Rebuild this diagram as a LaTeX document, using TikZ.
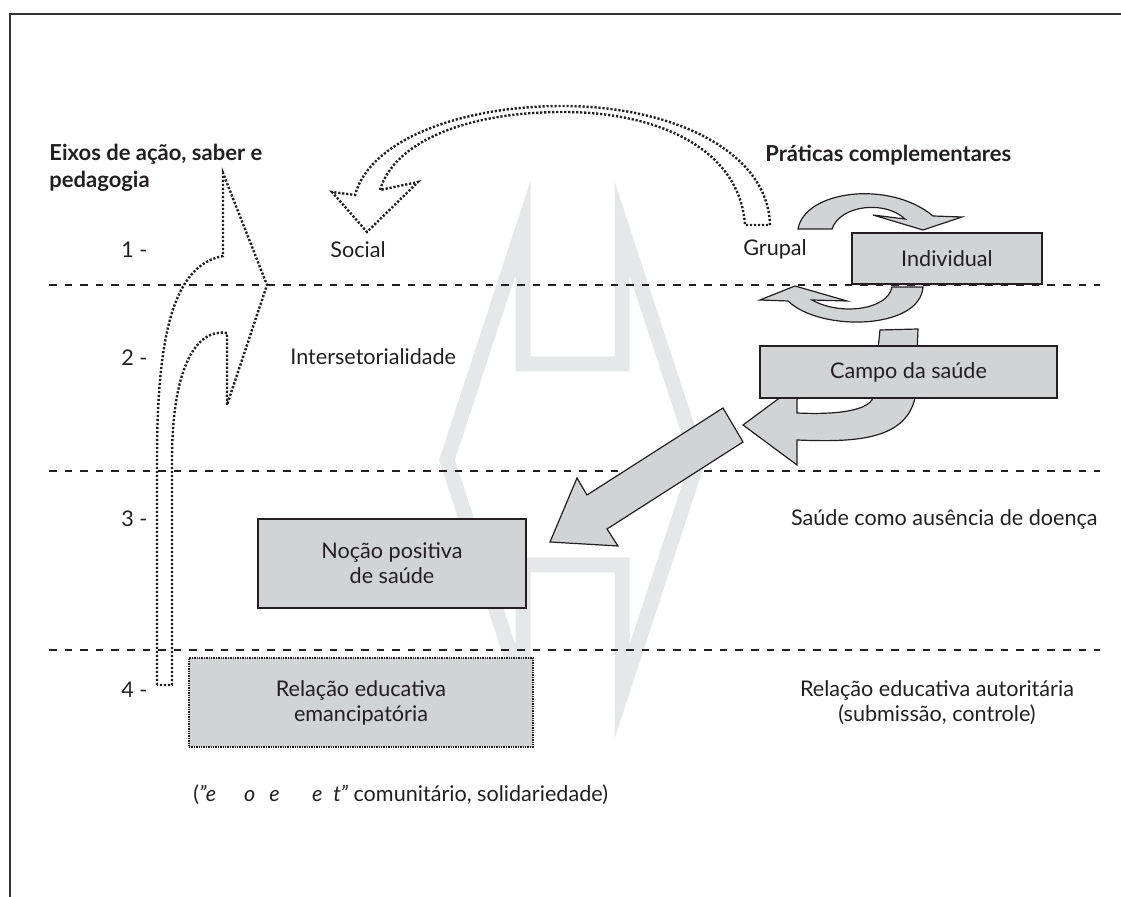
\documentclass[tikz,border=0pt]{standalone}
\usepackage{fontspec}
\setmainfont{Lato}
\usepackage{xcolor}
\definecolor{ink}{HTML}{231F20}
\definecolor{boxgray}{HTML}{D1D3D4}
\definecolor{markgray}{HTML}{E6E7E8}

\begin{document}
\begin{tikzpicture}[
    x=0.5pt, y=-0.5pt,
    font=\fontsize{10.8}{12.5}\selectfont,
    text=ink,
    box/.style={draw=ink, line width=0.6pt, fill=boxgray, align=center, inner sep=0pt},
    dotbox/.style={box, line width=1.1pt, dash pattern=on 0.7pt off 0.5pt},
    sepline/.style={ink, line width=1.3pt, dash pattern=on 3.8pt off 4pt},
    dotarrow/.style={ink, line width=1.2pt, dash pattern=on 1.1pt off 0.9pt},
    grayarrow/.style={draw=ink, line width=0.6pt, fill=boxgray},
    wmark/.style={draw=markgray, line width=7.5pt, line join=miter},
    heading/.style={anchor=west, align=left, inner sep=0pt, font=\fontsize{11}{13.5}\selectfont\bfseries},
    plain/.style={anchor=west, inner sep=0pt}
  ]
  \useasboundingbox (0,0) rectangle (1121,897);

  % background symbol
  \draw[wmark] (523,228) -- (447,460) -- (523,692) -- (523,565) -- (622,565) -- (622,692)
    -- (698,460) -- (622,228) -- (622,364) -- (523,364) -- cycle;

  % frame
  \draw[black!80, line width=0.9pt] (1121,14) -- (10,14) -- (10,897);

  % levels
  \foreach \y in {285,471,650}
    \draw[sepline] (49,\y) -- (1100,\y);

  % gray arrows
  \draw[grayarrow] (798,229) .. controls (805,190) and (890,180) .. (933,216) -- (962,217) -- (923,230)
    -- (873,215) -- (905,219) .. controls (885,200) and (840,205) .. (832,229) -- cycle;
  \draw[grayarrow] (892,287) -- (923,287) .. controls (920,330) and (820,332) .. (788,301) -- (760,300)
    -- (795,286) -- (847,301) -- (812,300) .. controls (840,316) and (888,310) .. (892,287) -- cycle;
  \draw[grayarrow] (880,330) -- (918,329) -- (915,398) .. controls (905,442) and (850,442) .. (797,440)
    -- (797,465) -- (743,425) -- (797,385) -- (797,413) .. controls (840,415) and (868,410) .. (873,398) -- cycle;
  \draw[grayarrow] (723,408) -- (743,442) -- (607,529) -- (618,546) -- (550,542) -- (577,478) -- (587,495) -- cycle;

  % boxes
  \node[box, minimum width=95pt, minimum height=25.5pt] (indiv) at (947,258.5) {Individual};
  \node[box, minimum width=148.5pt, minimum height=26pt] (campo) at (908.5,372) {Campo da saúde};
  \node[box, minimum width=134pt, minimum height=44.5pt] (nocao) at (392,563.5) {Noção positiva\\de saúde};
  \node[dotbox, minimum width=172pt, minimum height=44.5pt] (emanc) at (361,702.5) {Relação educativa\\emancipatória};

  % dotted arrows
  \draw[dotarrow] (157,685) -- (157,460) .. controls (157,330) and (175,265) .. (223,256) -- (223,173)
    -- (267,285) -- (227,405) -- (227,333) .. controls (195,328) and (172,370) .. (172,460) -- (172,685) -- cycle;
  \draw[dotarrow] (770,225) .. controls (768,150) and (670,106) .. (563,106) .. controls (460,106) and (370,140) .. (355,195)
    -- (332,192) -- (367,232) -- (418,182) -- (380,190) .. controls (395,140) and (470,112) .. (563,112)
    .. controls (660,112) and (740,150) .. (745,225) -- cycle;

  % texts
  \node[heading] (axes) at (49,168) {Eixos de ação, saber e\\pedagogia};
  \node[heading] (compl) at (765,155) {Práticas complementares};
  \node[plain] (n1) at (121,250) {1 -};
  \node[plain] (n2) at (121,358) {2 -};
  \node[plain] (n3) at (121,519) {3 -};
  \node[plain] (n4) at (121,690) {4 -};
  \node (social) at (358,250) {Social};
  \node (grupal) at (775,249) {Grupal};
  \node[plain] (inter) at (290,357) {Intersetorialidade};
  \node[anchor=east, inner sep=0pt] (ausencia) at (1098,519) {Saúde como ausência de doença};
  \node[align=center] (autor) at (937,703) {Relação educativa autoritária\\(submissão, controle)};
  \node[plain] (nota) at (193,795) {(\textit{"e\hspace{1.3em}o\hspace{0.65em}e\hspace{1.5em}e\hspace{0.5em}t"} comunitário, solidariedade)};
\end{tikzpicture}
\end{document}
